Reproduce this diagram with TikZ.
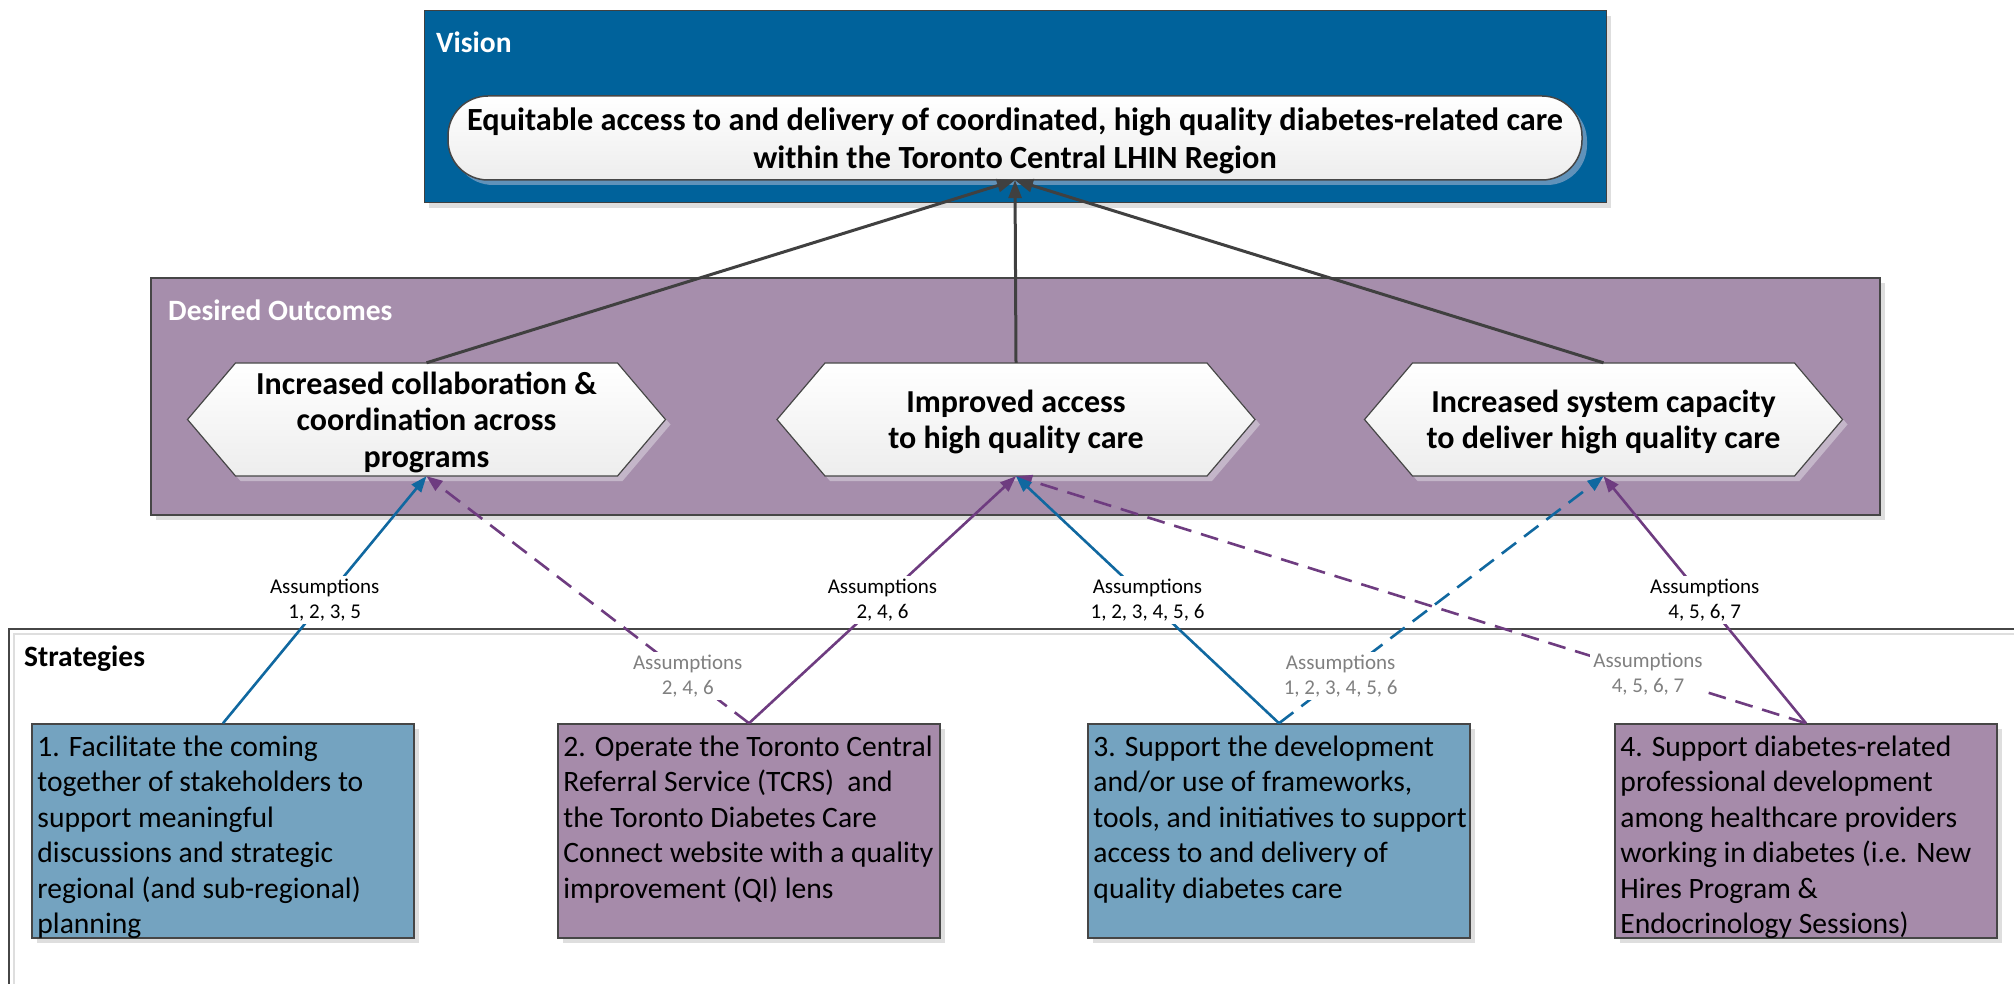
\documentclass[tikz,border=0pt]{standalone}
\usepackage{fontspec}
\setmainfont{Carlito}
\usetikzlibrary{arrows.meta,calc}

\definecolor{visionblue}{RGB}{0,98,155}
\definecolor{pillshadow}{RGB}{96,146,186}
\definecolor{outcomefill}{RGB}{166,142,172}
\definecolor{hexshadow}{RGB}{196,182,201}
\definecolor{stratblue}{RGB}{116,163,192}
\definecolor{stratpurple}{RGB}{166,139,170}
\definecolor{lineblue}{RGB}{16,104,160}
\definecolor{linepurple}{RGB}{110,60,128}
\definecolor{arrowgray}{RGB}{64,64,64}
\definecolor{labelgray}{RGB}{128,128,128}
\definecolor{edgegray}{RGB}{70,70,70}
\definecolor{shadowgray}{RGB}{222,222,222}

\tikzset{
  paneltitle/.style={anchor=west,inner sep=0pt,text=white,font=\fontsize{29.5}{35}\selectfont\bfseries},
  hexframe/.style={inner sep=0pt,minimum width=478pt,minimum height=113pt},
  outcometext/.style={inner sep=0pt,align=center,font=\fontsize{32}{36.5}\selectfont\bfseries},
  hexface/.style={draw=edgegray,line width=1.2pt,top color=white,bottom color=black!7},
  stratbox/.style={draw=edgegray,line width=1.5pt,minimum width=382pt,minimum height=214pt,inner sep=0pt},
  strattext/.style={anchor=north west,inner sep=0pt,align=left,font=\fontsize{29.6}{35.5}\selectfont},
  upward/.style={line width=3pt,draw=arrowgray,-{Triangle[length=18pt,width=13pt]}},
  link/.style={line width=2.6pt,-{Triangle[length=16pt,width=12pt]}},
  bluelink/.style={link,draw=lineblue},
  purplelink/.style={link,draw=linepurple},
  dashedlink/.style={dash pattern=on 18pt off 10pt},
  assump/.style={fill=white,inner sep=3pt,align=center,font=\fontsize{21}{25}\selectfont},
  assumpfaint/.style={assump,text=labelgray},
}

% hexagonal outcome: centre x, centre y, name, text
\newcommand\outcomehex[4]{%
  \fill[hexshadow] ({#1-234},{#2+5}) -- ({#1-186},{#2-51.5}) -- ({#1+196},{#2-51.5})
     -- ({#1+244},{#2+5}) -- ({#1+196},{#2+61.5}) -- ({#1-186},{#2+61.5}) -- cycle;
  \shade[hexface] ({#1-239},#2) -- ({#1-191},{#2-56.5}) -- ({#1+191},{#2-56.5})
     -- ({#1+239},#2) -- ({#1+191},{#2+56.5}) -- ({#1-191},{#2+56.5}) -- cycle;
  \node[hexframe] (#3) at (#1,#2) {};
  \node[outcometext] (#3t) at (#1,{#2+2.5}) {#4};}

% strategy box: centre x, name, fill colour, text
\newcommand\strategybox[4]{%
  \fill[shadowgray] ({#1-186},729) rectangle ({#1+196},943);
  \node[stratbox,fill=#3] (#2) at (#1,831) {};
  \node[strattext] (#2t) at ($(#2.north west)+(6,12)$) {#4};}

\begin{document}
\begin{tikzpicture}[x=1pt,y=-1pt]
\useasboundingbox (0,0) rectangle (2014,984);
\clip (0,0) rectangle (2014,984);

% --- Vision panel ---
\fill[shadowgray] (429,16) rectangle (1611,208);
\draw[fill=visionblue,draw=black!75,line width=1pt] (424,11) rectangle (1606,203);
\node[paneltitle] (visiontitle) at (436,42) {Vision};
\fill[pillshadow,rounded corners=40pt] (453,101) rectangle (1587,185);
\shade[draw=edgegray,line width=1.5pt,top color=white,bottom color=black!7,rounded corners=40pt]
  (448,96) rectangle (1582,180);
\node[inner sep=0pt,minimum width=1134pt,minimum height=84pt] (goal) at (1015,138) {};
\node[inner sep=0pt,align=center,font=\fontsize{32.3}{38}\selectfont\bfseries] (goaltext) at (1015,140.5)
  {Equitable access to and delivery of coordinated, high quality diabetes-related care\\
   within the Toronto Central LHIN Region};

% --- Desired outcomes panel ---
\fill[shadowgray] (156,283) rectangle (1885,520);
\draw[fill=outcomefill,draw=edgegray,line width=1.2pt] (151,278) rectangle (1880,515);
\node[paneltitle] (outcometitle) at (168,310) {Desired Outcomes};
\outcomehex{426.5}{419.5}{h1}{Increased collaboration \&\\coordination across\\programs}
\outcomehex{1016}{419.5}{h2}{Improved access\\to high quality care}
\outcomehex{1603.5}{419.5}{h3}{Increased system capacity\\to deliver high quality care}

% --- Strategies panel ---
\draw[shadowgray,line width=2pt] (2030,634) -- (14,634) -- (14,1000);
\draw[edgegray,line width=1.5pt] (2030,629) -- (9,629) -- (9,1000);
\node[paneltitle,text=black] (strattitle) at (24,659) {Strategies};
\strategybox{223}{s1}{stratblue}{1. Facilitate the coming\\together of stakeholders to\\support meaningful\\discussions and strategic\\regional (and sub-regional)\\planning}
\strategybox{749}{s2}{stratpurple}{2. Operate the Toronto Central\\Referral Service (TCRS)\ \ and\\the Toronto Diabetes Care\\Connect website with a quality\\improvement (QI) lens}
\strategybox{1279}{s3}{stratblue}{3. Support the development\\and/or use of frameworks,\\tools, and initiatives to support\\access to and delivery of\\quality diabetes care}
\strategybox{1806}{s4}{stratpurple}{4. Support diabetes-related\\professional development\\among healthcare providers\\working in diabetes (i.e. New\\Hires Program \&\\Endocrinology Sessions)}

% --- outcomes lead to the vision ---
\draw[upward] (h1.north) -- (goal.south);
\draw[upward] (h2.north) -- (goal.south);
\draw[upward] (h3.north) -- (goal.south);

% --- strategies lead to outcomes ---
\draw[purplelink,dashedlink] (s2.north) -- node[assumpfaint,pos=0.19] (a2b) {Assumptions\\2, 4, 6} (h1.south);
\draw[bluelink,dashedlink] (s3.north) -- node[assumpfaint,pos=0.19] (a3b) {Assumptions\\1, 2, 3, 4, 5, 6} (h3.south);
\draw[purplelink,dashedlink] (s4.north) -- node[assumpfaint,pos=0.2] (a4b) {Assumptions\\4, 5, 6, 7} (h2.south);
\draw[bluelink] (s1.north) -- node[assump] (a1) {Assumptions\\1, 2, 3, 5} (h1.south);
\draw[purplelink] (s2.north) -- node[assump] (a2) {Assumptions\\2, 4, 6} (h2.south);
\draw[bluelink] (s3.north) -- node[assump] (a3) {Assumptions\\1, 2, 3, 4, 5, 6} (h2.south);
\draw[purplelink] (s4.north) -- node[assump] (a4) {Assumptions\\4, 5, 6, 7} (h3.south);
\end{tikzpicture}
\end{document}
